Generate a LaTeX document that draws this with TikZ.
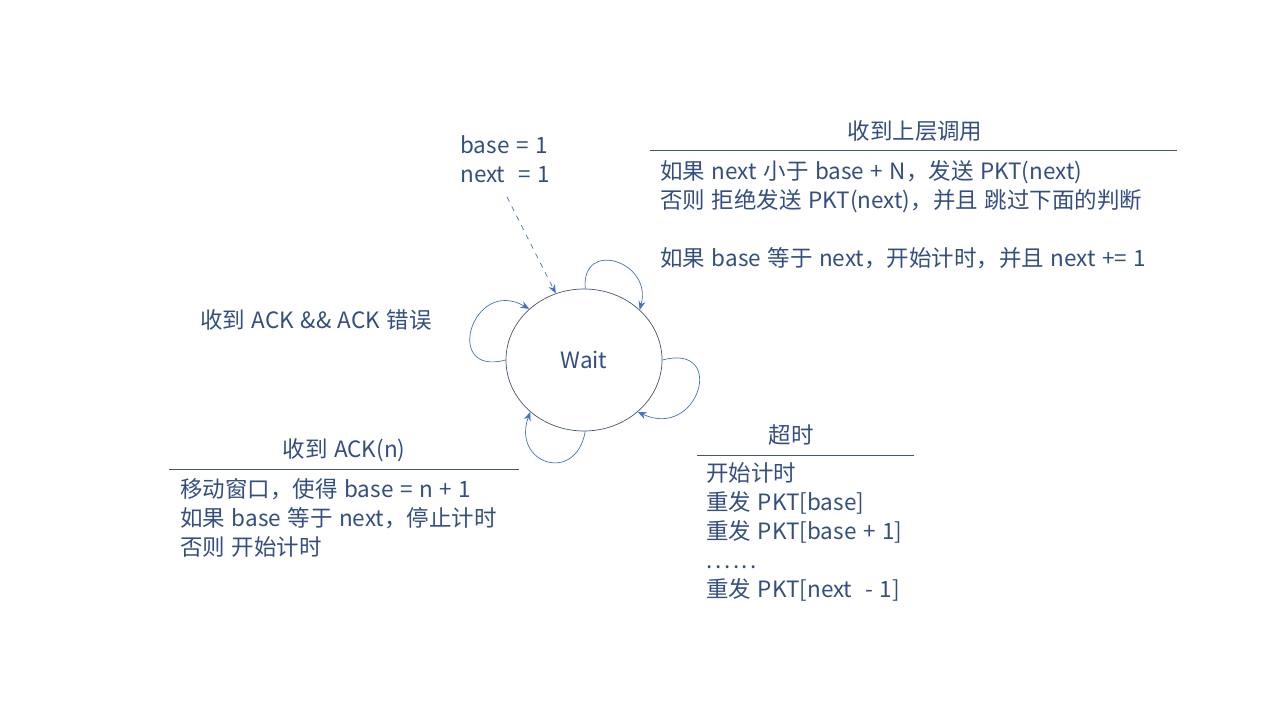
\documentclass[tikz,border=0pt]{standalone}
\usepackage{fontspec}
\setmainfont[WordSpace=1.3]{Noto Sans CJK SC}
\usetikzlibrary{arrows.meta,shapes.geometric}
\definecolor{txtcol}{RGB}{52,78,130}
\definecolor{linecol}{RGB}{68,84,106}
\definecolor{arrcol}{RGB}{68,114,196}
\tikzset{
  txt/.style={text=txtcol, inner sep=0pt, align=left, font=\fontsize{12.8}{16.5}\selectfont},
  loop/.style={draw=arrcol, -{Stealth[length=5pt,width=4pt]}},
  rule/.style={draw=linecol, line width=0.5pt}
}
\begin{document}
\begin{tikzpicture}
  \useasboundingbox (0,0) rectangle (25.6,14.4);
  % state
  \node[ellipse, draw=linecol, minimum width=3.12cm, minimum height=2.84cm, text=txtcol,
        font=\fontsize{12.8}{14}\selectfont] (wait) at (11.68,7.2) {Wait};
  % initial values
  \node[txt, anchor=west] (init) at (9.2,11.21) {base = 1\\next\ \ = 1};
  \coordinate (initend) at (10.14,10.46);
  \draw[loop, dashed] (initend) -- (wait.113);
  % self loops
  \draw[loop] (wait.89) to[out=95, in=75, looseness=2.2] (wait.42);
  \draw[loop] (wait.180) to[out=195, in=150, looseness=3.0] (wait.137);
  \draw[loop] (wait.0) to[out=15, in=-25, looseness=3.0] (wait.-44);
  \draw[loop] (wait.-89) to[out=-100, in=-110, looseness=2.4] (wait.-136);
  % labels
  \node[txt, anchor=west] (ackerr) at (4.0,8.0) {收到 ACK \&\& ACK 错误};

  \node[txt] (callhead) at (18.3,11.78) {收到上层调用};
  \draw[rule] (13.0,11.4) -- (23.54,11.4);
  \node[txt, anchor=west] (callbody) at (13.2,10.11)
    {如果 next 小于 base + N，发送 PKT(next)\\否则 拒绝发送 PKT(next)，并且 跳过下面的判断\\[16.5pt]如果 base 等于 next，开始计时，并且 next += 1};

  \node[txt] (ackhead) at (6.88,5.4) {收到 ACK(n)};
  \draw[rule] (3.38,5.02) -- (10.38,5.02);
  \node[txt, anchor=west] (ackbody) at (3.6,4.04)
    {移动窗口，使得 base = n + 1\\如果 base 等于 next，停止计时\\否则 开始计时};

  \node[txt] (tohead) at (15.82,5.7) {超时};
  \draw[rule] (13.94,5.3) -- (18.28,5.3);
  \node[txt, anchor=west] (tobody) at (14.12,3.76)
    {开始计时\\重发 PKT[base]\\重发 PKT[base + 1]\\.\kern1.5pt.\kern1.5pt.\kern1.5pt.\kern1.5pt.\kern1.5pt.\\重发 PKT[next\ \ - 1]};
\end{tikzpicture}
\end{document}
